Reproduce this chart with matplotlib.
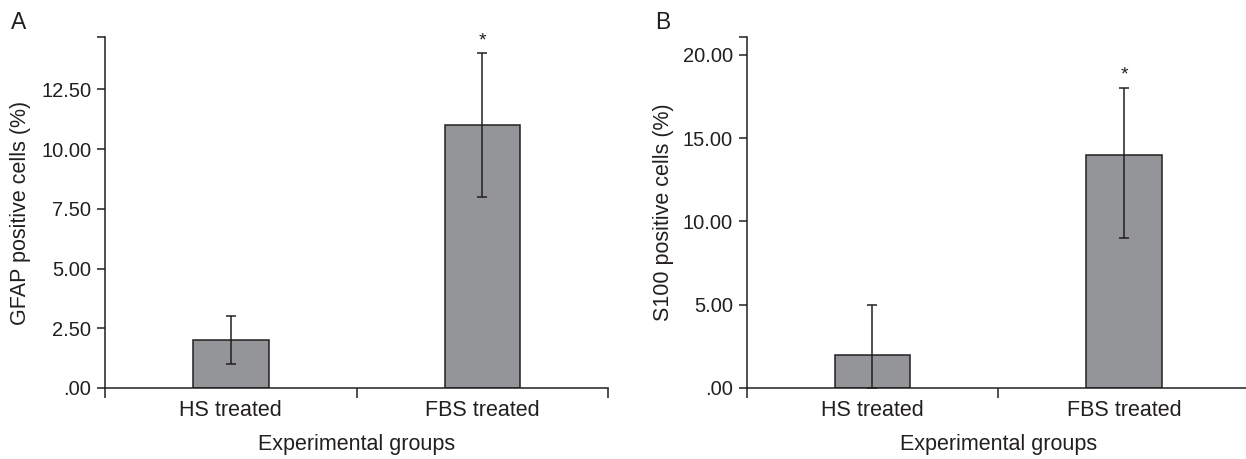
import matplotlib
matplotlib.use("Agg")
import matplotlib.pyplot as plt
from matplotlib.ticker import FuncFormatter

groups = ["HS treated", "FBS treated"]

gfap_mean = [2.0, 11.0]
gfap_low = [1.0, 8.0]
gfap_high = [3.0, 14.0]
gfap_ticks = [0, 2.5, 5.0, 7.5, 10.0, 12.5]

s100_mean = [2.0, 14.0]
s100_low = [0.0, 9.0]
s100_high = [5.0, 18.0]
s100_ticks = [0, 5.0, 10.0, 15.0, 20.0]

stars = ["", "*"]

BAR = "#939598"
INK = "#231f20"
TXT = 15.5

plt.rcParams["font.family"] = ["Liberation Sans", "DejaVu Sans"]


def fmt(v, _):
    s = f"{v:.2f}"
    return s[1:] if s.startswith("0") else s


def draw_panel(ax, means, low, high, ticks, ytop, ylabel, letter, ylab_x, let_x):
    xs = list(range(len(groups)))
    yerr = [[m - l for m, l in zip(means, low)], [h - m for m, h in zip(means, high)]]
    ax.bar(xs, means, width=0.3, color=BAR, edgecolor=INK, linewidth=1.1, zorder=2)
    ax.errorbar(xs, means, yerr=yerr, fmt="none", ecolor=INK, elinewidth=1.1,
                capsize=3.3, capthick=1.1, zorder=3)
    for x, h, s in zip(xs, high, stars):
        if s:
            ax.text(x, h + ytop * 0.012, s, ha="center", va="bottom", fontsize=14, color=INK)
    ax.set_xlim(-0.5, len(groups) - 0.5)
    ax.set_ylim(0, ytop)
    ax.set_yticks(ticks + [ytop])
    ax.yaxis.set_major_formatter(FuncFormatter(lambda v, p: "" if v == ytop else fmt(v, p)))
    ax.set_xticks([x + 0.5 for x in [-1] + xs])
    ax.set_xticklabels([])
    ax.set_xticks(xs, minor=True)
    ax.set_xticklabels(groups, minor=True)
    ax.tick_params(axis="x", which="minor", length=0, pad=9, labelsize=TXT, colors=INK)
    ax.tick_params(axis="x", which="major", length=7, width=1.1, color=INK)
    ax.tick_params(axis="y", length=6, width=1.1, color=INK, labelsize=14.5, labelcolor=INK, pad=4)
    for side in ["top", "right"]:
        ax.spines[side].set_visible(False)
    for side in ["left", "bottom"]:
        ax.spines[side].set_linewidth(1.1)
        ax.spines[side].set_color(INK)
    ax.set_xlabel("Experimental groups", fontsize=TXT, color=INK, va="center")
    ax.xaxis.set_label_coords(0.5, -0.162)
    ax.set_ylabel(ylabel, fontsize=TXT, color=INK, va="center")
    ax.yaxis.set_label_coords(ylab_x, 0.5)
    ax.text(let_x, 1.024, letter, transform=ax.transAxes, fontsize=16.5, color=INK,
            ha="left", va="baseline")


fig = plt.figure(figsize=(12.46, 4.59), dpi=100)
ax_a = fig.add_axes([0.0843, 0.1547, 0.4037, 0.7647])
ax_b = fig.add_axes([0.5993, 0.1547, 0.4037, 0.7647])

draw_panel(ax_a, gfap_mean, gfap_low, gfap_high, gfap_ticks, 14.69,
           "GFAP positive cells (%)", "A", -0.169, -0.187)
draw_panel(ax_b, s100_mean, s100_low, s100_high, s100_ticks, 21.07,
           "S100 positive cells (%)", "B", -0.166, -0.182)

fig.savefig("out.png", dpi=100)
